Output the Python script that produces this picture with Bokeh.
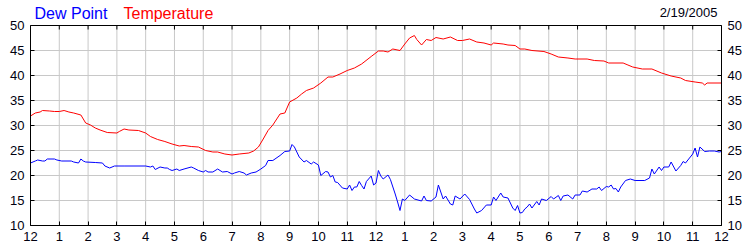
import numpy as np
from bokeh.plotting import figure
from bokeh.models import Range1d, LinearAxis, FixedTicker, Span
from bokeh.core.properties import value
from bokeh.embed import file_html
from bokeh.resources import INLINE

# Temperature readings (minutes after midnight, deg F)
temp_minutes = [0, 10, 20, 25, 40, 50, 60, 70, 80, 90, 105, 110, 115, 125, 135, 145, 160, 180, 185, 195,
                205, 225, 240, 250, 265, 280, 295, 310, 320, 335, 350, 365, 380, 390, 405, 420, 435, 455, 465, 475,
                485, 495, 505, 520, 530, 540, 555, 565, 575, 590, 605, 620, 630, 645, 660, 675, 690, 710, 725, 735,
                745, 755, 770, 780, 790, 800, 805, 815, 825, 835, 845, 860, 875, 890, 900, 915, 930, 945, 960, 965,
                985, 995, 1010, 1020, 1030, 1045, 1070, 1085, 1100, 1120, 1135, 1160, 1175, 1195, 1205, 1235, 1245,
                1255, 1275, 1295, 1315, 1335, 1355, 1365, 1385, 1400, 1405, 1410, 1440]
temp_values = [31.9, 32.5, 32.7, 33.0, 32.9, 32.8, 32.8, 33.0, 32.7, 32.5, 32.1, 31.3, 30.5, 30.1, 29.5, 29.1, 28.6, 28.5, 28.8, 29.3,
               29.1, 29.0, 28.5, 27.8, 27.2, 26.8, 26.3, 25.9, 26.0, 25.8, 25.7, 25.0, 24.7, 24.7, 24.3, 24.1, 24.3, 24.5, 24.9, 25.7,
               27.3, 29.0, 30.1, 32.3, 32.5, 34.7, 35.5, 36.3, 37.0, 37.5, 38.5, 39.7, 39.7, 40.3, 41.0, 41.5, 42.3, 43.8, 44.9, 44.9,
               44.7, 45.3, 45.0, 46.3, 47.5, 48.0, 47.2, 46.1, 47.2, 47.0, 47.6, 47.3, 47.7, 47.0, 47.0, 47.3, 46.7, 46.5, 46.1, 46.5,
               46.3, 46.1, 46.0, 45.3, 45.3, 45.0, 44.8, 44.3, 43.7, 43.5, 43.3, 43.3, 43.0, 42.9, 42.5, 42.5, 42.1,
               41.7, 41.3, 41.3, 40.5, 39.9, 39.5, 39.0, 38.7, 38.5, 38.1, 38.5, 38.5]

# Dew point readings (minutes after midnight, deg F)
dew_minutes = [0, 10, 15, 25, 30, 35, 50, 55, 65, 85, 90, 100, 105, 110, 115, 135, 150, 155, 165, 175,
               195, 240, 250, 255, 260, 270, 280, 285, 290, 295, 305, 310, 320, 335, 340, 350, 360, 365, 370, 380,
               390, 400, 410, 420, 425, 435, 445, 450, 460, 470, 480, 490, 495, 505, 520, 530, 540, 545, 550, 560,
               570, 575, 585, 590, 600, 605, 615, 620, 625, 630, 635, 640, 650, 660, 665, 670, 675, 680, 685, 690,
               695, 700, 710, 715, 720, 725, 730, 735, 745, 750, 760, 765, 770, 775, 780, 790, 800, 815, 820, 825,
               835, 845, 850, 860, 865, 875, 880, 885, 895, 905, 915, 925, 930, 940, 950, 960, 965, 970, 980, 985,
               995, 1005, 1010, 1015, 1020, 1025, 1030, 1035, 1040, 1045, 1055, 1060, 1065, 1075, 1085, 1090, 1100,
               1105, 1110, 1120, 1130, 1135, 1145, 1150, 1160, 1170, 1180, 1185, 1190, 1200, 1205, 1210, 1215, 1220,
               1225, 1230, 1240, 1250, 1260, 1280, 1290, 1295, 1300, 1310, 1315, 1320, 1330, 1335, 1345, 1355, 1360,
               1365, 1375, 1380, 1385, 1390, 1395, 1405, 1415, 1425, 1435, 1440]
dew_values = [22.5, 22.9, 23.1, 22.9, 22.9, 23.3, 23.3, 23.1, 22.9, 22.9, 22.7, 22.5, 23.3, 22.9, 22.7, 22.6, 22.5, 21.9, 21.5, 21.9,
              21.9, 21.9, 21.7, 21.9, 21.2, 21.7, 21.5, 21.5, 21.2, 21.0, 21.3, 21.0, 21.3, 21.7, 21.5, 21.0, 20.7, 21.0, 20.7, 20.7,
              21.3, 20.7, 20.8, 20.3, 20.5, 20.8, 20.5, 20.1, 20.5, 20.7, 21.3, 22.0, 23.0, 23.0, 24.0, 24.8, 24.9, 26.2, 25.7, 23.7,
              22.7, 23.0, 22.3, 22.7, 22.1, 20.0, 20.8, 20.7, 19.7, 20.0, 18.7, 18.6, 17.5, 17.3, 18.1, 17.0, 17.7, 17.7, 18.8, 18.0,
              17.3, 18.8, 19.9, 18.1, 18.5, 21.0, 19.9, 19.3, 20.1, 19.2, 16.3, 14.7, 13.0, 15.3, 15.0, 16.1, 15.3, 14.9, 15.9, 15.0,
              14.9, 15.7, 18.1, 15.3, 15.9, 14.3, 14.1, 15.9, 15.3, 16.3, 15.2, 13.3, 12.5, 13.0, 14.1, 14.1, 15.7, 15.0, 16.5, 15.7,
              15.5, 13.5, 13.0, 14.0, 12.5, 12.6, 13.3, 13.7, 14.3, 13.5, 14.8, 14.1, 15.3, 15.0, 15.8, 15.3, 16.0,
              15.0, 15.9, 16.1, 15.3, 16.1, 16.1, 16.9, 16.7, 17.3, 17.3, 17.7, 17.0, 17.8, 17.7, 18.1, 17.3, 17.4,
              16.7, 17.7, 19.0, 19.3, 19.0, 19.0, 19.5, 21.3, 20.3, 21.7, 21.0, 21.7, 21.7, 22.7, 20.9, 22.0, 22.8,
              22.5, 23.7, 24.3, 25.5, 23.7, 25.7, 24.8, 24.9, 24.9, 24.7, 24.8]

hour_ticks = list(range(25))
hour_labels = ["12", "1", "2", "3", "4", "5", "6", "7", "8", "9", "10", "11",
               "12", "1", "2", "3", "4", "5", "6", "7", "8", "9", "10", "11", "12"]
y_ticks = [10, 15, 20, 25, 30, 35, 40, 45, 50]
series_names = ["Dew Point", "Temperature"]
series_colors = ["#0000ff", "#ff0000"]
date_text = "2/19/2005"

FONT = "Liberation Sans"
WIDTH, HEIGHT = 750, 250
BORDER_L, BORDER_R, BORDER_B = 30, 29, 25
HEADER_UNITS = 5          # value units of head room above the chart's 50 line (5 px per unit)
TICK_UNITS = 0.8          # inner tick length on the top edge, in value units (4 px)
GRID_COLOR = "#c8c8c8"

# header text anchors, in the chart's own units (hours, degrees)
NAME_X = [0.14, 3.23]
NAME_Y = 52.4
DATE_X = 23.86
DATE_Y = 52.6

y_lo, y_hi = y_ticks[0], y_ticks[-1]

p = figure(width=WIDTH, height=HEIGHT, title=None,
           x_range=Range1d(hour_ticks[0], hour_ticks[-1]),
           y_range=Range1d(y_lo, y_hi + HEADER_UNITS),
           output_backend="svg", toolbar_location=None,
           min_border_left=BORDER_L, min_border_right=BORDER_R,
           min_border_top=0, min_border_bottom=BORDER_B)
p.background_fill_color = "white"
p.border_fill_color = "white"
p.outline_line_color = None

xt = FixedTicker(ticks=hour_ticks)
yt = FixedTicker(ticks=y_ticks)


def style_axis(ax):
    ax.axis_line_color = "black"
    ax.axis_line_width = 1
    ax.major_tick_in = 4
    ax.major_tick_out = 0
    ax.major_tick_line_color = "black"
    ax.minor_tick_line_color = None
    ax.major_label_text_font = FONT
    ax.major_label_text_font_size = "13px"
    ax.major_label_text_color = "#000010"
    ax.major_label_standoff = 6


p.xaxis.ticker = xt
p.xaxis.major_label_overrides = {t: l for t, l in zip(hour_ticks, hour_labels)}
p.yaxis.ticker = yt
p.yaxis.bounds = (y_lo, y_hi)
style_axis(p.xaxis[0])
style_axis(p.yaxis[0])

right_axis = LinearAxis(ticker=FixedTicker(ticks=y_ticks), bounds=(y_lo, y_hi))
style_axis(right_axis)
p.add_layout(right_axis, "right")

# horizontal grid from the axis ticks; vertical grid only over the chart area
p.ygrid.ticker = yt
p.ygrid.grid_line_color = GRID_COLOR
p.xgrid.visible = False
n = len(hour_ticks)
p.segment(x0=hour_ticks, y0=[y_lo] * n, x1=hour_ticks, y1=[y_hi] * n,
          line_color=GRID_COLOR, line_width=1)

dew_hours = np.array(dew_minutes) / 60.0
temp_hours = np.array(temp_minutes) / 60.0
p.line(dew_hours, dew_values, line_color=series_colors[0], line_width=1)
p.line(temp_hours, temp_values, line_color=series_colors[1], line_width=1)

# top edge of the chart with inner ticks
p.add_layout(Span(location=y_hi, dimension="width", line_color="black", line_width=1))
p.segment(x0=hour_ticks, y0=[y_hi] * n, x1=hour_ticks, y1=[y_hi - TICK_UNITS] * n,
          line_color="black", line_width=1)

# header: series names and date
p.text(x=NAME_X, y=[NAME_Y, NAME_Y], text=series_names, text_color=series_colors,
       text_font=value(FONT), text_font_size=value("16px"), text_baseline=value("alphabetic"))
p.text(x=[DATE_X], y=[DATE_Y], text=[date_text], text_color="#000010",
       text_font=value(FONT), text_font_size=value("13px"),
       text_align=value("right"), text_baseline=value("alphabetic"))

open("out.html", "w").write(file_html(p, INLINE))
